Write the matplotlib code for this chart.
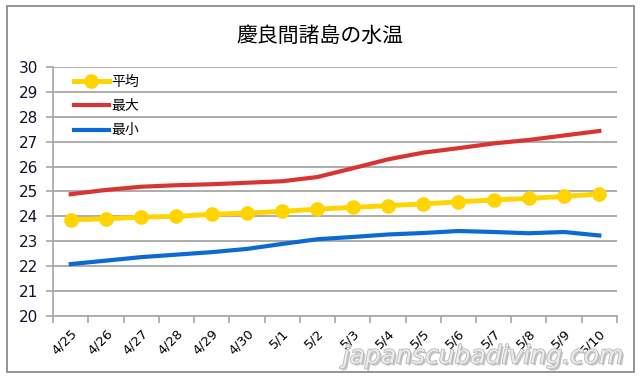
import matplotlib.pyplot as plt
import matplotlib.patheffects as pe
from matplotlib.patches import Rectangle

plt.rcParams['font.family'] = ['Noto Sans CJK JP', 'DejaVu Sans']

dates = ['4/25', '4/26', '4/27', '4/28', '4/29', '4/30', '5/1', '5/2',
         '5/3', '5/4', '5/5', '5/6', '5/7', '5/8', '5/9', '5/10']
avg_temp = [23.86, 23.9, 23.97, 24.0, 24.08, 24.13, 24.2, 24.29,
            24.36, 24.43, 24.5, 24.58, 24.66, 24.72, 24.8, 24.9]
max_temp = [24.89, 25.06, 25.19, 25.25, 25.29, 25.35, 25.41, 25.58,
            25.93, 26.29, 26.56, 26.74, 26.93, 27.07, 27.25, 27.43]
min_temp = [22.08, 22.22, 22.36, 22.46, 22.56, 22.69, 22.89, 23.08,
            23.17, 23.27, 23.33, 23.41, 23.37, 23.32, 23.37, 23.23]

fig = plt.figure(figsize=(6.4, 3.81), dpi=100)
ax = fig.add_axes([0.083, 0.171, 0.881, 0.653])

# outer chart frame
fig.patches.append(Rectangle((0.011, 0.024), 0.98, 0.961, transform=fig.transFigure,
                             fill=False, edgecolor='#8c8c8c', linewidth=1.3))

x = list(range(len(dates)))
ax.plot(x, avg_temp, color='#FFD400', lw=3.5, marker='o', markersize=9.5,
        label='平均', zorder=4)
ax.plot(x, max_temp, color='#D93434', lw=3, label='最大', zorder=3)
ax.plot(x, min_temp, color='#0B6BD3', lw=3, label='最小', zorder=3)

ax.set_xlim(-0.5, len(dates) - 0.5)
ax.set_ylim(20, 30)
ax.set_yticks(range(20, 31))
ax.yaxis.grid(True, color='#a6a6a6', lw=1.3)
ax.set_axisbelow(True)

ax.set_xticks([i - 0.5 for i in range(len(dates) + 1)])
ax.set_xticklabels([])
ax.set_xticks(x, minor=True)
ax.set_xticklabels(dates, minor=True, rotation=45, ha='right',
                   rotation_mode='anchor', fontsize=9.5, family='DejaVu Sans')
ax.tick_params(axis='x', which='minor', length=0, pad=8)
ax.tick_params(axis='x', which='major', length=5, color='#a6a6a6', width=1.2)
ax.tick_params(axis='y', length=5, color='#a6a6a6', width=1.2,
               labelsize=11, pad=6, labelcolor='#10142a')
for lab in ax.get_yticklabels():
    lab.set_family('DejaVu Sans')

for s in ['top', 'right']:
    ax.spines[s].set_visible(False)
for s in ['left', 'bottom']:
    ax.spines[s].set_color('#a6a6a6')
    ax.spines[s].set_linewidth(1.2)

fig.text(0.5, 0.905, '慶良間諸島の水温', ha='center', va='center', fontsize=15)

ax.legend(loc='upper left', bbox_to_anchor=(0.015, 1.02), frameon=False,
          handlelength=2.5, labelspacing=0.75, fontsize=10, handletextpad=0.2)

fig.text(0.755, 0.065, 'japanscubadiving.com', ha='center', va='center',
         fontsize=18, style='italic', color='#ececec', family='DejaVu Sans',
         path_effects=[pe.withSimplePatchShadow(offset=(1.5, -1.5),
                                                shadow_rgbFace='#9a9a9a', alpha=0.6),
                       pe.Stroke(linewidth=1.2, foreground='#b8b8b8'), pe.Normal()])

fig.savefig('out.png', dpi=100)
